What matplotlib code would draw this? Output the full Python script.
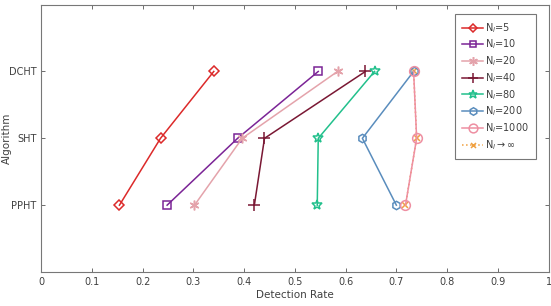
import matplotlib
matplotlib.use("Agg")
import matplotlib.pyplot as plt

# algorithms on the y axis (bottom to top)
algorithms = ["PPHT", "SHT", "DCHT"]
y_pos = [1, 2, 3]

# detection rates per N_l, order: PPHT, SHT, DCHT
rate_n5 = [0.154, 0.235, 0.340]
rate_n10 = [0.248, 0.387, 0.546]
rate_n20 = [0.302, 0.396, 0.584]
rate_n40 = [0.420, 0.440, 0.639]
rate_n80 = [0.544, 0.546, 0.657]
rate_n200 = [0.700, 0.633, 0.734]
rate_n1000 = [0.718, 0.740, 0.734]
rate_ninf = [0.718, 0.740, 0.734]

x_ticks = [0, 0.1, 0.2, 0.3, 0.4, 0.5, 0.6, 0.7, 0.8, 0.9, 1]
x_ticklabels = ["0", "0.1", "0.2", "0.3", "0.4", "0.5", "0.6", "0.7", "0.8", "0.9", "1"]

# values, label, colour, marker, marker size, line style, zorder
series = [
    (rate_n5, r"N$_l$=5", "#dc2a2a", "D", 5, "-", 3),
    (rate_n10, r"N$_l$=10", "#7b2496", "s", 5.5, "-", 3),
    (rate_n20, r"N$_l$=20", "#e4a3ab", (6, 2, 0), 7, "-", 3),
    (rate_n40, r"N$_l$=40", "#7a1834", "+", 8, "-", 3),
    (rate_n80, r"N$_l$=80", "#22c08c", "*", 7, "-", 3),
    (rate_n200, r"N$_l$=200", "#5a8dbd", "h", 6, "-", 3),
    (rate_n1000, r"N$_l$=1000", "#ee8fa2", "o", 7, "-", 3),
    (rate_ninf, r"N$_l$$\rightarrow\infty$", "#f0a040", "x", 4, ":", 2),
]

plt.rcParams["font.family"] = ["DejaVu Sans"]
fig = plt.figure(figsize=(5.51, 3.06), dpi=100)
ax = fig.add_axes([0.075, 0.111, 0.9205, 0.874])

for vals, label, color, marker, ms, ls, z in series:
    ax.plot(vals, y_pos, color=color, marker=marker, markersize=ms,
            markerfacecolor="none", markeredgewidth=1.1, linewidth=1.1,
            linestyle=ls, label=label, zorder=z)

ax.set_xlim(0, 1)
ax.set_ylim(0, 4)
ax.set_xticks(x_ticks)
ax.set_xticklabels(x_ticklabels)
ax.set_yticks(y_pos)
ax.set_yticklabels(algorithms)
ax.tick_params(direction="in", length=3, width=0.6, top=True, right=True,
               labelsize=7, colors="#555555", labelcolor="#404040")
for s in ax.spines.values():
    s.set_color("#777777")
    s.set_linewidth(0.8)

ax.set_xlabel("Detection Rate", fontsize=7.5, color="#404040", labelpad=2)
ax.set_ylabel("Algorithm", fontsize=7.5, color="#404040")
ax.yaxis.set_label_coords(-0.058, 0.5)

leg = ax.legend(loc="upper right", bbox_to_anchor=(0.976, 0.966), fontsize=7,
                handlelength=2.2, handletextpad=0.2, labelspacing=0.3,
                borderpad=0.75, borderaxespad=0, fancybox=False, framealpha=1,
                edgecolor="#777777", markerscale=0.9)
leg.get_frame().set_linewidth(0.8)
for t in leg.get_texts():
    t.set_color("#404040")

fig.savefig("out.png", dpi=100)
